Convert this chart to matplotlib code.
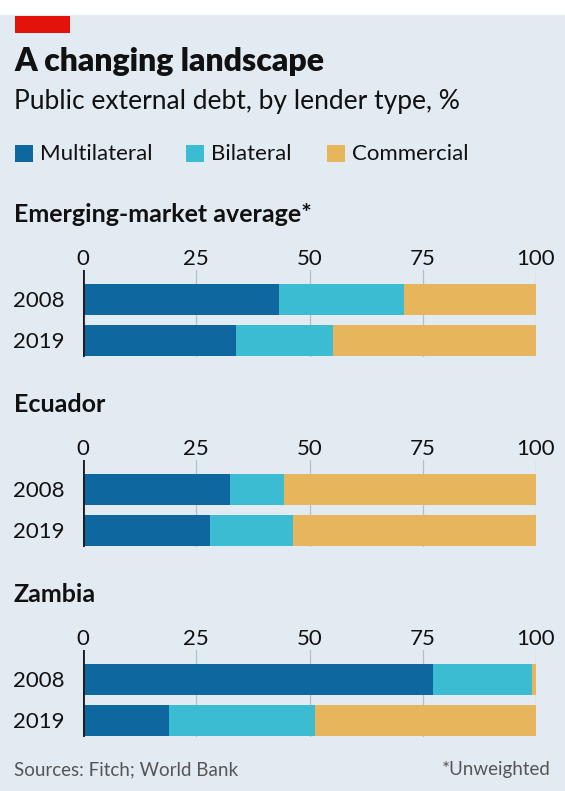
import numpy as np
from matplotlib import pyplot as plt
from matplotlib.patches import Rectangle

plt.rcParams['font.family'] = ['Lato', 'DejaVu Sans']

# data (% of public external debt)
panels = ["Emerging-market average*", "Ecuador", "Zambia"]
years = ["2008", "2019"]
multilateral = [[43.3, 33.8], [32.5, 28.0], [77.3, 19.0]]
bilateral = [[27.6, 21.4], [11.9, 18.4], [21.8, 32.2]]
commercial = [[29.1, 44.8], [55.6, 53.6], [0.9, 48.8]]
ticks = [0, 25, 50, 75, 100]

c_multi = '#0f67a0'
c_bi = '#3bbcd2'
c_comm = '#e6b55c'
bg = '#e2ebf2'
txt = '#111111'

W, H = 565, 791
fig = plt.figure(figsize=(W / 100, H / 100), dpi=100)
fig.patch.set_facecolor(bg)


def fx(x):
    return x / W


def fy(y):
    return 1 - y / H


# white strip + red tag on top
fig.patches.append(Rectangle((0, fy(15)), 1, 15 / H, transform=fig.transFigure,
                             facecolor='white', edgecolor='none'))
fig.patches.append(Rectangle((fx(15), fy(33)), 55 / W, 17 / H, transform=fig.transFigure,
                             facecolor='#e3120b', edgecolor='none'))

fig.text(fx(14), fy(62), "A changing landscape", fontsize=23, fontweight='heavy',
         color=txt, va='center', ha='left')
fig.text(fx(14), fy(101), "Public external debt, by lender type, %", fontsize=19,
         color=txt, va='center', ha='left')

# legend
legend_items = [("Multilateral", c_multi, 15), ("Bilateral", c_bi, 186), ("Commercial", c_comm, 327)]
for name, col, x0 in legend_items:
    fig.patches.append(Rectangle((fx(x0), fy(162)), 18 / W, 17 / H, transform=fig.transFigure,
                                 facecolor=col, edgecolor='none'))
    fig.text(fx(x0 + 25), fy(154), name, fontsize=16, color=txt, va='center', ha='left')

x0_px, x1_px = 83, 536
for i, name in enumerate(panels):
    off = 190 * i
    fig.text(fx(14), fy(215 + off), name, fontsize=18, fontweight='bold',
             color=txt, va='center', ha='left')
    top, bot = 270 + off, 357 + off
    ax = fig.add_axes([fx(x0_px), fy(bot), (x1_px - x0_px) / W, (bot - top) / H])
    ax.set_facecolor('none')
    y = np.arange(len(years))
    m = np.array(multilateral[i])
    b = np.array(bilateral[i])
    c = np.array(commercial[i])
    for t in ticks[1:]:
        ax.axvline(t, color='#b5bfc6', lw=0.9, zorder=0)
    ax.barh(y, m, height=0.75, color=c_multi, zorder=2)
    ax.barh(y, b, left=m, height=0.75, color=c_bi, zorder=2)
    ax.barh(y, c, left=m + b, height=0.75, color=c_comm, zorder=2)
    ax.axvline(0, color='#1a1a1a', lw=2, zorder=3)
    ax.set_xlim(0, 100)
    ax.set_ylim(1.41, -0.72)
    ax.xaxis.tick_top()
    ax.set_xticks(ticks)
    ax.set_xticklabels([str(t) for t in ticks], fontsize=16, color=txt)
    ax.tick_params(axis='x', length=0, pad=1)
    ax.set_yticks(y)
    ax.set_yticklabels(years, fontsize=16, color=txt)
    ax.tick_params(axis='y', length=0, pad=13)
    for s in ax.spines.values():
        s.set_visible(False)

fig.text(fx(14), fy(770), "Sources: Fitch; World Bank", fontsize=13.5, color='#555555',
         va='center', ha='left')
fig.text(fx(551), fy(770), "*Unweighted", fontsize=13.5, color='#555555',
         va='center', ha='right')

plt.savefig('out.png', dpi=100, facecolor=bg)
